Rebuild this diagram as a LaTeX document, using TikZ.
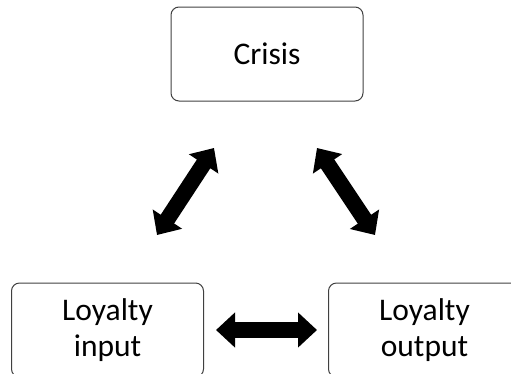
\documentclass[tikz,border=0pt]{standalone}
\usepackage{fontspec}
\setmainfont{Carlito}
\usetikzlibrary{arrows.meta}
\begin{document}
\begin{tikzpicture}[x=1pt,y=-1pt,
  box/.style={draw=black!75, line width=1pt, rounded corners=8pt,
    minimum width=192pt, minimum height=94pt, align=center,
    font=\fontsize{31.5}{36.5}\selectfont, inner sep=0pt},
  blockarrow/.style={line width=16pt,
    {Triangle[width=34pt,length=19pt]}-{Triangle[width=34pt,length=19pt]}}]
  \useasboundingbox (0,0) rectangle (511,373);
  \clip (0,0) rectangle (511,373);

  % the three stages
  \node[box] (crisis) at (267,54) {Crisis};
  \node[box] (input)  at (107.5,330) {Loyalty\\input};
  \node[box] (output) at (424.5,330) {Loyalty\\output};

  % ends of the two-way arrows
  \coordinate (l1) at (157,235);
  \coordinate (l2) at (214,148);
  \coordinate (r1) at (317,148);
  \coordinate (r2) at (375,235);
  \coordinate (h1) at (216,330);
  \coordinate (h2) at (317,330);

  \draw[blockarrow] (l1) -- (l2);
  \draw[blockarrow] (r1) -- (r2);
  \draw[blockarrow] (h1) -- (h2);
\end{tikzpicture}
\end{document}
